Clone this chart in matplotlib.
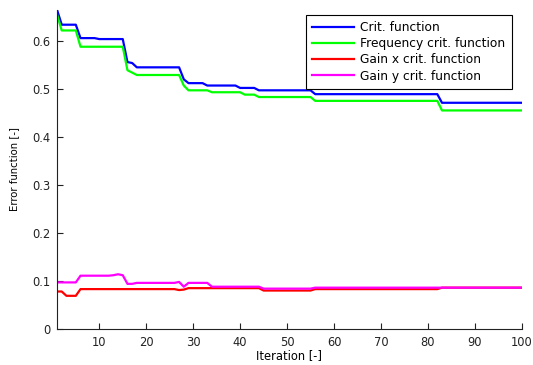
import matplotlib
matplotlib.use('Agg')
import matplotlib.pyplot as plt
import numpy as np

plt.rcParams['font.family'] = ['DejaVu Sans']

iterations = list(range(1, 101))

crit = [0.666, 0.635, 0.635, 0.635, 0.635, 0.607, 0.607, 0.607, 0.607, 0.605,
        0.605, 0.605, 0.605, 0.605, 0.605, 0.557, 0.555, 0.546, 0.546, 0.546,
        0.546, 0.546, 0.546, 0.546, 0.546, 0.546, 0.546, 0.521, 0.513, 0.513,
        0.513, 0.513, 0.508, 0.508, 0.508, 0.508, 0.508, 0.508, 0.508, 0.503,
        0.503, 0.503, 0.503, 0.498, 0.498, 0.498, 0.498, 0.498, 0.498, 0.498,
        0.498, 0.498, 0.498, 0.498, 0.498, 0.490, 0.490, 0.490, 0.490, 0.490,
        0.490, 0.490, 0.490, 0.490, 0.490, 0.490, 0.490, 0.490, 0.490, 0.490,
        0.490, 0.490, 0.490, 0.490, 0.490, 0.490, 0.490, 0.490, 0.490, 0.490,
        0.490, 0.490, 0.472, 0.472, 0.472, 0.472, 0.472, 0.472, 0.472, 0.472,
        0.472, 0.472, 0.472, 0.472, 0.472, 0.472, 0.472, 0.472, 0.472, 0.472]

freq = [0.656, 0.623, 0.623, 0.623, 0.623, 0.589, 0.589, 0.589, 0.589, 0.589,
        0.589, 0.589, 0.589, 0.589, 0.589, 0.540, 0.535, 0.530, 0.530, 0.530,
        0.530, 0.530, 0.530, 0.530, 0.530, 0.530, 0.530, 0.508, 0.498, 0.498,
        0.498, 0.498, 0.498, 0.494, 0.494, 0.494, 0.494, 0.494, 0.494, 0.494,
        0.489, 0.489, 0.489, 0.484, 0.484, 0.484, 0.484, 0.484, 0.484, 0.484,
        0.484, 0.484, 0.484, 0.484, 0.484, 0.476, 0.476, 0.476, 0.476, 0.476,
        0.476, 0.476, 0.476, 0.476, 0.476, 0.476, 0.476, 0.476, 0.476, 0.476,
        0.476, 0.476, 0.476, 0.476, 0.476, 0.476, 0.476, 0.476, 0.476, 0.476,
        0.476, 0.476, 0.456, 0.456, 0.456, 0.456, 0.456, 0.456, 0.456, 0.456,
        0.456, 0.456, 0.456, 0.456, 0.456, 0.456, 0.456, 0.456, 0.456, 0.456]

gain_x = [0.078, 0.078, 0.069, 0.069, 0.069, 0.083, 0.083, 0.083, 0.083, 0.083,
          0.083, 0.083, 0.083, 0.083, 0.083, 0.083, 0.083, 0.083, 0.083, 0.083,
          0.083, 0.083, 0.083, 0.083, 0.083, 0.083, 0.081, 0.082, 0.085, 0.085,
          0.085, 0.085, 0.085, 0.085, 0.085, 0.085, 0.085, 0.085, 0.085, 0.085,
          0.085, 0.085, 0.085, 0.085, 0.080, 0.080, 0.080, 0.080, 0.080, 0.080,
          0.080, 0.080, 0.080, 0.080, 0.080, 0.083, 0.083, 0.083, 0.083, 0.083,
          0.083, 0.083, 0.083, 0.083, 0.083, 0.083, 0.083, 0.083, 0.083, 0.083,
          0.083, 0.083, 0.083, 0.083, 0.083, 0.083, 0.083, 0.083, 0.083, 0.083,
          0.083, 0.083, 0.086, 0.086, 0.086, 0.086, 0.086, 0.086, 0.086, 0.086,
          0.086, 0.086, 0.086, 0.086, 0.086, 0.086, 0.086, 0.086, 0.086, 0.086]

gain_y = [0.097, 0.097, 0.097, 0.097, 0.097, 0.111, 0.111, 0.111, 0.111, 0.111,
          0.111, 0.111, 0.112, 0.114, 0.112, 0.094, 0.094, 0.096, 0.096, 0.096,
          0.096, 0.096, 0.096, 0.096, 0.096, 0.096, 0.098, 0.088, 0.096, 0.096,
          0.096, 0.096, 0.096, 0.088, 0.088, 0.088, 0.088, 0.088, 0.088, 0.088,
          0.088, 0.088, 0.088, 0.088, 0.084, 0.084, 0.084, 0.084, 0.084, 0.084,
          0.084, 0.084, 0.084, 0.084, 0.084, 0.086, 0.086, 0.086, 0.086, 0.086,
          0.086, 0.086, 0.086, 0.086, 0.086, 0.086, 0.086, 0.086, 0.086, 0.086,
          0.086, 0.086, 0.086, 0.086, 0.086, 0.086, 0.086, 0.086, 0.086, 0.086,
          0.086, 0.086, 0.086, 0.086, 0.086, 0.086, 0.086, 0.086, 0.086, 0.086,
          0.086, 0.086, 0.086, 0.086, 0.086, 0.086, 0.086, 0.086, 0.086, 0.086]

labels = ['Crit. function', 'Frequency crit. function',
          'Gain x crit. function', 'Gain y crit. function']
colors = ['#0000ff', '#00ff00', '#ff0000', '#ff00ff']

fig = plt.figure(figsize=(5.33, 3.65), dpi=100)
ax = fig.add_axes([0.107, 0.099, 0.872, 0.874])

for series, lab, col in zip([crit, freq, gain_x, gain_y], labels, colors):
    ax.plot(iterations, series, color=col, linewidth=1.6, label=lab)

ax.set_xlim(1, 100)
ax.set_ylim(0, max(crit))
ax.set_xticks(range(10, 101, 10))
ax.set_yticks(np.arange(0, 0.61, 0.1))
ax.set_yticklabels(['0', '0.1', '0.2', '0.3', '0.4', '0.5', '0.6'])
ax.tick_params(direction='in', length=4, width=0.8, labelsize=8.3, colors='#222222',
               pad=5)
ax.spines['top'].set_visible(False)
ax.spines['right'].set_visible(False)
for s in ['left', 'bottom']:
    ax.spines[s].set_color('#222222')
    ax.spines[s].set_linewidth(0.8)

ax.set_xlabel('Iteration [-]', fontsize=8.3, labelpad=0)
ax.set_ylabel('Error function [-]', fontsize=7.3, labelpad=9)

leg = ax.legend(loc='upper right', bbox_to_anchor=(0.978, 0.984), fontsize=8.8,
                fancybox=False, edgecolor='black', framealpha=1,
                borderaxespad=0, handlelength=3.45, labelspacing=0.26,
                handletextpad=0.5, borderpad=0.5)
leg.get_frame().set_linewidth(0.8)

fig.savefig('out.png', dpi=100)
